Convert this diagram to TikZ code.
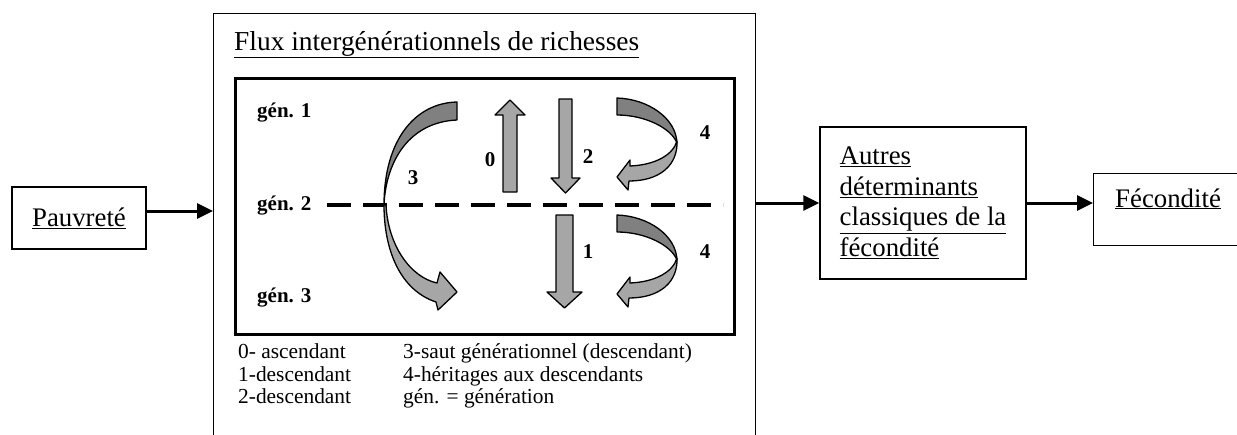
\documentclass[tikz,border=0pt]{standalone}
\usepackage{fontspec}
\setmainfont{Liberation Serif}
\usetikzlibrary{arrows.meta}
\newcommand\uln[1]{\underline{#1}}
\definecolor{darkband}{HTML}{808080}
\definecolor{lightband}{HTML}{A6A6A6}
\begin{document}
\begin{tikzpicture}[x=1pt,y=-1pt,
  box/.style={draw, line width=1.4pt, inner sep=0pt},
  conn/.style={line width=3pt, -{Triangle[length=16pt,width=15pt]}},
  maintext/.style={font=\fontsize{26.8}{30.5}\selectfont},
  legend/.style={font=\fontsize{21.4}{22.5}\selectfont, anchor=base west, inner sep=0pt},
  gen/.style={font=\fontsize{21}{24}\selectfont\bfseries, anchor=base west, inner sep=0pt},
  num/.style={font=\fontsize{21}{24}\selectfont\bfseries, inner sep=0pt},
  flat/.style={draw, line width=1.3pt, fill=lightband, line join=round},
  back/.style={draw, line width=1.3pt, fill=darkband, line join=round},
  genline/.style={line width=3.5pt, dash pattern=on 24pt off 12pt}
]
\useasboundingbox (0,0) rectangle (1237,434);
\clip (0,0) rectangle (1237,434);
\fill[white] (0,0) rectangle (1237,434);

% boxes
\node[box, maintext, minimum width=134pt, minimum height=62pt] (pauv) at (79,218) {\uln{Pauvreté}};
\node[box, minimum width=542pt, minimum height=440pt, anchor=north west] (flux) at (213,13) {};
\node[anchor=base west, inner sep=0pt, font=\fontsize{27.4}{31}\selectfont] (title) at (234,50) {\uln{Flux intergénérationnels de richesses}};
\node[draw, line width=3pt, minimum width=499pt, minimum height=256pt, anchor=north west] (inner) at (234,77) {};
\node[box, maintext, align=left, minimum width=206pt, minimum height=152pt] (autres) at (923,203)
  {\uln{Autres}\\\uln{déterminants}\\\uln{classiques de la}\\\uln{fécondité}};
\node[box, minimum width=152pt, minimum height=72pt, anchor=north west] (fec) at (1093,173) {};
\node[maintext, anchor=base west, inner sep=0pt] (fectext) at (1115,207) {\uln{Fécondité}};

% connectors
\draw[conn] ([yshift=7pt]pauv.east) -- ([yshift=7pt]pauv.east -| flux.west);
\draw[conn] (flux.east |- autres.west) -- (autres.west);
\draw[conn] (autres.east) -- (autres.east -| fec.west);

% generations
\node[gen] (g1) at (257,117) {gén. 1};
\node[gen] (g2) at (257,210) {gén. 2};
\node[gen] (g3) at (257,302) {gén. 3};
\coordinate (dl) at (327,205);
\coordinate (dr) at (723,205);
\draw[genline] (dl) -- (dr);

% straight arrows
\draw[flat] (503,192) -- (503,115) -- (495,115) -- (510,100) -- (525,115) -- (517,115) -- (517,192) -- cycle;
\draw[flat] (559,99) -- (559,178) -- (551,178) -- (565.5,193) -- (580,178) -- (572,178) -- (572,99) -- cycle;
\draw[flat] (556,215) -- (556,292) -- (547,292) -- (564.5,308) -- (582,292) -- (573,292) -- (573,215) -- cycle;

% curved arrow 3
\draw[back] (457,102) .. controls (415,103) and (384,140) .. (384,205)
  .. controls (386,160) and (410,122) .. (457,120) -- cycle;
\draw[flat] (384,205) .. controls (384,250) and (400,290) .. (436,302) -- (438,310) -- (457,292)
  -- (440,272) -- (437,283) .. controls (410,277) and (388,245) .. (386,205) -- cycle;

% curved arrows 4
\foreach \dy in {0,117} {
\begin{scope}[shift={(0,\dy)}]
\draw[back] (617,98) .. controls (648,99) and (676,118) .. (677,143)
  .. controls (671,128) and (645,115) .. (617,115) -- cycle;
\draw[flat] (677,141) .. controls (673,155) and (655,165) .. (630,166) -- (630,160) -- (617,177)
  -- (628,190) -- (629,181) .. controls (660,181) and (678,165) .. (677,141) -- cycle;
\end{scope}
}

% numbers
\node[num] (n0) at (490,160) {0};
\node[num] (n2) at (588,157) {2};
\node[num] (n3) at (413,178) {3};
\node[num] (n4a) at (705,133) {4};
\node[num] (n1) at (588,252) {1};
\node[num] (n4b) at (705,252) {4};

% legend
\node[legend] (l0) at (238,358) {0- ascendant};
\node[legend] (l1) at (238,381) {1-descendant};
\node[legend] (l2) at (238,403) {2-descendant};
\node[legend] (l3) at (403,358) {3-saut générationnel (descendant)};
\node[legend] (l4) at (403,381) {4-héritages aux descendants};
\node[legend] (l5) at (403,403) {gén. = génération};
\end{tikzpicture}
\end{document}
